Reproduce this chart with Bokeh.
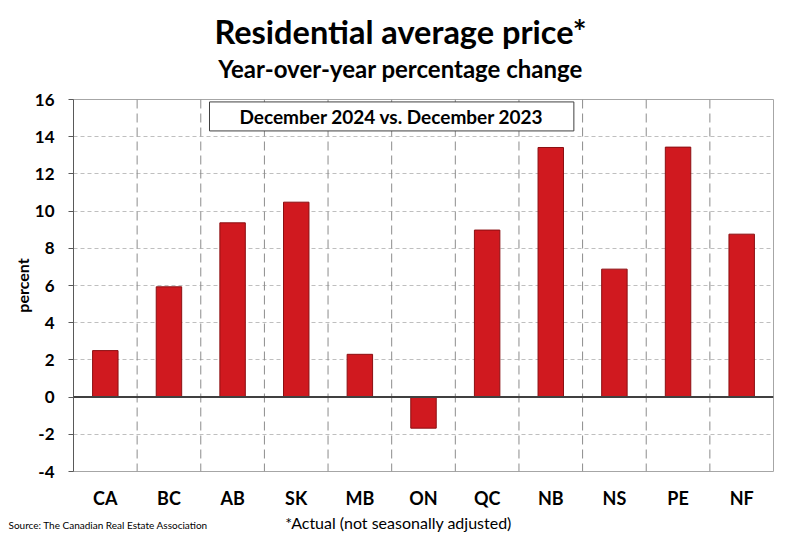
from bokeh.plotting import figure
from bokeh.layouts import column
from bokeh.models import Label, Span, FactorRange, Range1d, FixedTicker, PrintfTickFormatter
from bokeh.core.properties import value
from bokeh.embed import file_html
from bokeh.resources import INLINE

# ---- data ----
categories = ["CA", "BC", "AB", "SK", "MB", "ON", "QC", "NB", "NS", "PE", "NF"]
values = [2.5, 5.93, 9.37, 10.48, 2.3, -1.67, 8.98, 13.42, 6.88, 13.44, 8.76]
y_ticks = [-4, -2, 0, 2, 4, 6, 8, 10, 12, 14, 16]

title_text = "Residential average price*"
subtitle_text = "Year-over-year percentage change"
box_text = "December 2024 vs. December 2023"
footnote_text = "*Actual (not seasonally adjusted)"
source_text = "Source: The Canadian Real Estate Association"

FONT = "Lato"
W = 784
H = 532
HEADER_H = 84
FOOTER_H = 20
FRAME_TOP = 99
FRAME_H = 372


def blank(height):
    f = figure(width=W, height=height, output_backend="svg", toolbar_location=None,
               x_range=Range1d(0, W), y_range=Range1d(height, 0),
               x_axis_location=None, y_axis_location=None,
               min_border=0, min_border_left=0, min_border_right=0,
               min_border_top=0, min_border_bottom=0)
    f.grid.visible = False
    f.outline_line_color = None
    f.background_fill_color = "white"
    f.border_fill_color = "white"
    return f


# ---- header ----
header = blank(HEADER_H)
header.text(x=[400], y=[31], text=[title_text], text_align="center",
            text_baseline="middle", text_font=value(FONT),
            text_font_style="bold", text_font_size="32.5px", text_color="black")
header.text(x=[400], y=[68], text=[subtitle_text], text_align="center",
            text_baseline="middle", text_font=value(FONT),
            text_font_style="bold", text_font_size="24px", text_color="black")

# ---- main chart ----
MAIN_H = H - HEADER_H - FOOTER_H
p = figure(width=W, height=MAIN_H, output_backend="svg",
           toolbar_location=None,
           x_range=FactorRange(*categories, range_padding=0),
           y_range=Range1d(y_ticks[0], y_ticks[-1]))
p.min_border_left = 73
p.min_border_right = 11
p.min_border_top = FRAME_TOP - HEADER_H
p.min_border_bottom = MAIN_H - (FRAME_TOP - HEADER_H) - FRAME_H

p.vbar(x=categories, top=values, bottom=0, width=0.4,
       fill_color="#D0191F", line_color="#8B0F12", line_width=1)

p.yaxis.ticker = FixedTicker(ticks=y_ticks)
p.yaxis.formatter = PrintfTickFormatter(format="%d")
p.yaxis.axis_label = "percent"
p.yaxis.axis_label_text_font = FONT
p.yaxis.axis_label_text_font_style = "bold"
p.yaxis.axis_label_text_font_size = "16px"
p.yaxis.axis_label_text_color = "black"
p.yaxis.axis_label_standoff = 0
p.yaxis.major_label_text_font = FONT
p.yaxis.major_label_text_font_style = "bold"
p.yaxis.major_label_text_font_size = "17px"
p.yaxis.major_label_text_color = "black"
p.yaxis.major_label_standoff = 14
p.yaxis.axis_line_color = "#595959"
p.yaxis.major_tick_line_color = "#595959"
p.yaxis.major_tick_in = 0
p.yaxis.major_tick_out = 5
p.yaxis.minor_tick_line_color = None

p.xaxis.major_label_text_font = FONT
p.xaxis.major_label_text_font_style = "bold"
p.xaxis.major_label_text_font_size = "18px"
p.xaxis.major_label_text_color = "black"
p.xaxis.major_label_standoff = 15
p.xaxis.axis_line_color = None
p.xaxis.major_tick_line_color = None
p.xaxis.major_tick_out = 0
p.xaxis.major_tick_in = 0

p.ygrid.ticker = FixedTicker(ticks=y_ticks)
p.ygrid.grid_line_color = "#BFBFBF"
p.ygrid.grid_line_dash = "4 3"
p.xgrid.grid_line_color = None
for i in range(1, len(categories)):
    p.add_layout(Span(location=i, dimension="height", line_color="#8C8C8C",
                      line_dash="9 5", line_width=1))
p.add_layout(Span(location=0, dimension="width", line_color="#404040", line_width=2))

p.outline_line_color = "#A6A6A6"
p.outline_line_width = 1
p.background_fill_color = "white"
p.border_fill_color = "white"

p.add_layout(Label(x=len(categories) / 2 - 0.5, y=15.09, text=box_text,
                   text_align="center", text_baseline="middle",
                   text_font=FONT, text_font_style="bold", text_font_size="19px",
                   text_color="black",
                   background_fill_color="white", border_line_color="#404040",
                   border_line_width=1, padding=(30, 3)))

# ---- footer ----
footer = blank(FOOTER_H)
footer.text(x=[8], y=[12], text=[source_text], text_align="left",
            text_baseline="middle", text_font=value(FONT),
            text_font_size="10px", text_color="black")
footer.text(x=[398], y=[10], text=[footnote_text], text_align="center",
            text_baseline="middle", text_font=value(FONT),
            text_font_size="16px", text_color="black")

layout = column(column(header), p, column(footer), spacing=0)
open("out.html", "w").write(file_html(layout, INLINE))
